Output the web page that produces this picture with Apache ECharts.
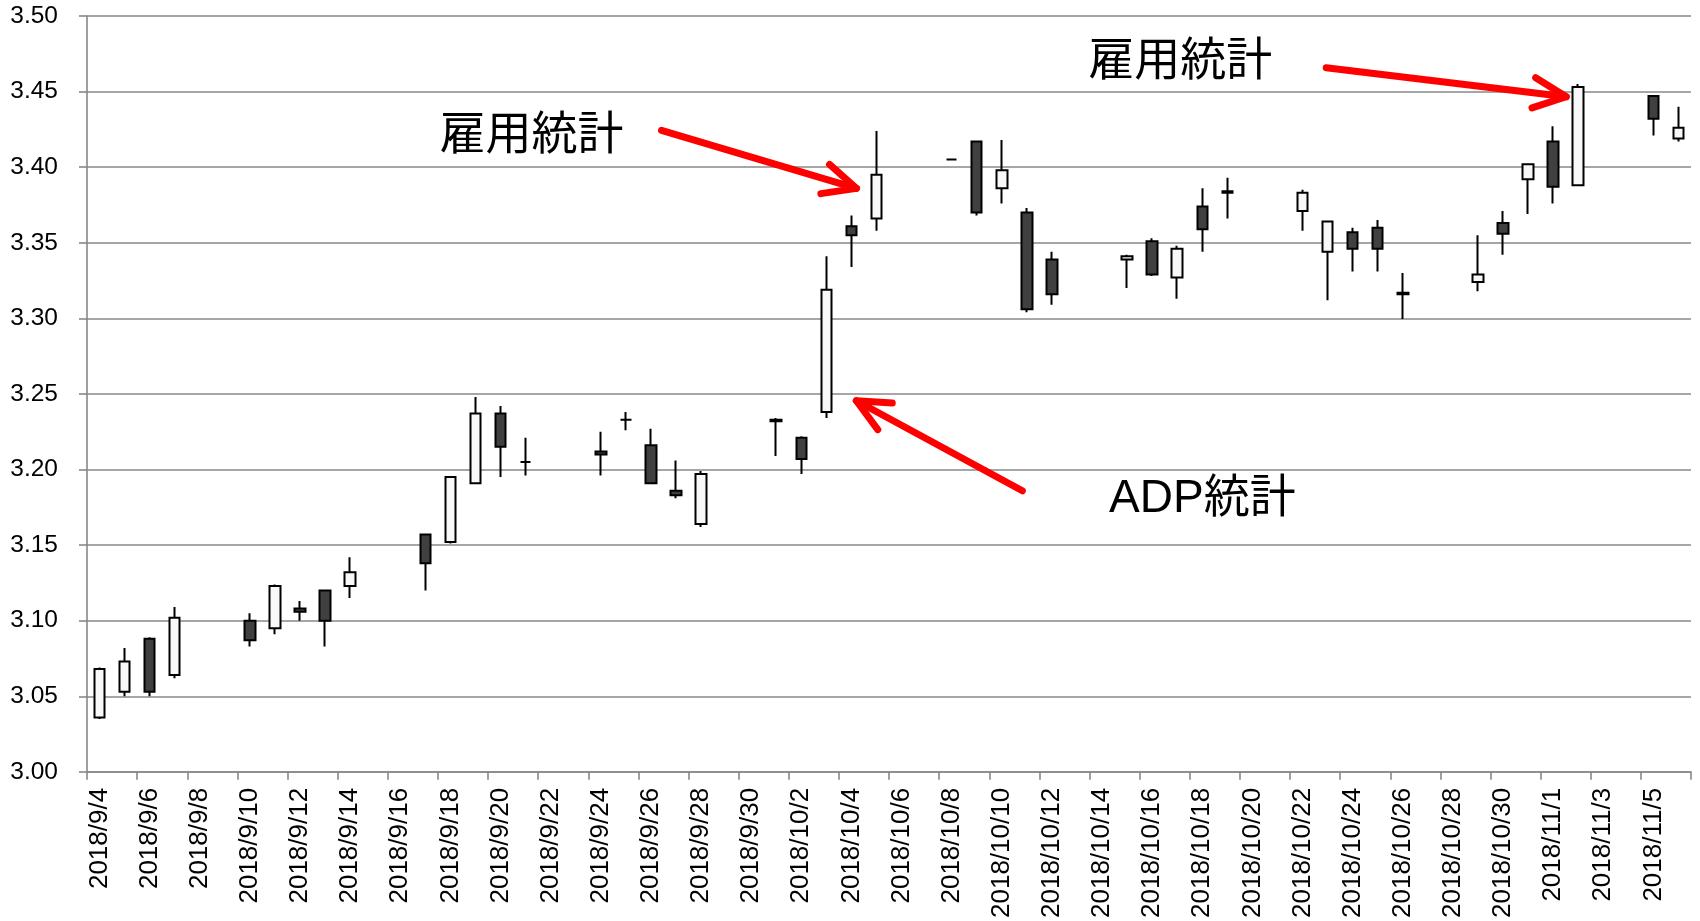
<!DOCTYPE html>
<html>
<head>
<meta charset="utf-8">
<script src="https://cdn.jsdelivr.net/npm/echarts@6/dist/echarts.min.js"></script>
<style>
html,body{margin:0;padding:0;background:#fff;}
#chart{width:1700px;height:921px;}
</style>
</head>
<body>
<div id="chart"></div>
<script>
// ---- data ----
var categories = [
 '2018/9/4','2018/9/5','2018/9/6','2018/9/7','2018/9/8','2018/9/9','2018/9/10','2018/9/11','2018/9/12','2018/9/13',
 '2018/9/14','2018/9/15','2018/9/16','2018/9/17','2018/9/18','2018/9/19','2018/9/20','2018/9/21','2018/9/22','2018/9/23',
 '2018/9/24','2018/9/25','2018/9/26','2018/9/27','2018/9/28','2018/9/29','2018/9/30','2018/10/1','2018/10/2','2018/10/3',
 '2018/10/4','2018/10/5','2018/10/6','2018/10/7','2018/10/8','2018/10/9','2018/10/10','2018/10/11','2018/10/12','2018/10/13',
 '2018/10/14','2018/10/15','2018/10/16','2018/10/17','2018/10/18','2018/10/19','2018/10/20','2018/10/21','2018/10/22','2018/10/23',
 '2018/10/24','2018/10/25','2018/10/26','2018/10/27','2018/10/28','2018/10/29','2018/10/30','2018/10/31','2018/11/1','2018/11/2',
 '2018/11/3','2018/11/4','2018/11/5','2018/11/6'
];
// null = no trading (weekend)
var openValues = [
 3.036,3.053,3.088,3.064,null,null,3.100,3.095,3.108,3.120,
 3.123,null,null,3.157,3.152,3.191,3.237,3.205,null,null,
 3.212,3.233,3.216,3.186,3.164,null,null,3.233,3.221,3.238,
 3.361,3.366,null,null,3.405,3.417,3.386,3.370,3.339,null,
 null,3.339,3.351,3.327,3.374,3.384,null,null,3.371,3.344,
 3.357,3.360,3.317,null,null,3.324,3.363,3.392,3.417,3.388,
 null,null,3.447,3.419
];
var closeValues = [
 3.068,3.073,3.053,3.102,null,null,3.087,3.123,3.106,3.100,
 3.132,null,null,3.138,3.195,3.237,3.215,3.205,null,null,
 3.210,3.233,3.191,3.183,3.197,null,null,3.232,3.207,3.319,
 3.355,3.395,null,null,3.405,3.370,3.398,3.306,3.316,null,
 null,3.341,3.329,3.346,3.359,3.383,null,null,3.383,3.364,
 3.346,3.346,3.316,null,null,3.329,3.356,3.402,3.387,3.453,
 null,null,3.432,3.426
];
var lowValues = [
 3.035,3.050,3.050,3.062,null,null,3.083,3.091,3.100,3.083,
 3.115,null,null,3.120,3.151,3.191,3.195,3.196,null,null,
 3.196,3.226,3.191,3.181,3.162,null,null,3.209,3.197,3.234,
 3.334,3.358,null,null,3.405,3.368,3.376,3.304,3.309,null,
 null,3.320,3.328,3.313,3.344,3.366,null,null,3.358,3.312,
 3.331,3.331,3.2995,null,null,3.318,3.342,3.369,3.376,3.388,
 null,null,3.421,3.417
];
var highValues = [
 3.069,3.082,3.089,3.109,null,null,3.105,3.124,3.113,3.120,
 3.142,null,null,3.157,3.195,3.248,3.242,3.221,null,null,
 3.225,3.238,3.227,3.206,3.199,null,null,3.234,3.222,3.341,
 3.368,3.424,null,null,3.405,3.417,3.418,3.373,3.344,null,
 null,3.342,3.353,3.348,3.386,3.393,null,null,3.385,3.364,
 3.360,3.365,3.330,null,null,3.355,3.371,3.402,3.427,3.455,
 null,null,3.447,3.440
];
var yTicks = {min: 3.00, max: 3.50, interval: 0.05};

// annotations: tip anchored on a candle (date, value) with pixel offsets for tail and text
var annotations = [
 {text:'雇用統計', date:'2018/10/5', value:3.386, dx:-20, tail:[-195,-58], label:[-325,-52]},
 {text:'雇用統計', date:'2018/11/2', value:3.4466, dx:-12, tail:[-240,-29], label:[-386,-34]},
 {text:'ADP統計', date:'2018/10/3', value:3.2455, dx:30, tail:[166,90], label:[346,99]}
];

// ---- build ----
var candleData = categories.map(function(c, i){
  if (openValues[i] == null) return ['-','-','-','-'];
  return [openValues[i], closeValues[i], lowValues[i], highValues[i]];
});

var chart = echarts.init(document.getElementById('chart'), null, {renderer:'canvas'});
var gridColor = '#888888';
var option = {
  animation: false,
  backgroundColor: '#ffffff',
  grid: {left: 87, right: 9, top: 16, bottom: 147, containLabel: false},
  xAxis: {
    type: 'category',
    data: categories,
    boundaryGap: true,
    axisLine: {show: true, lineStyle: {color: gridColor, width: 1.6}},
    axisTick: {show: true, interval: 1, length: 8, lineStyle: {color: gridColor, width: 1.6}},
    axisLabel: {interval: 1, rotate: 90, margin: 16, fontSize: 26, color: '#000',
                fontFamily: '"Liberation Sans", Arial, sans-serif'},
    splitLine: {show: false}
  },
  yAxis: {
    type: 'value',
    min: yTicks.min, max: yTicks.max, interval: yTicks.interval,
    axisLine: {show: true, lineStyle: {color: gridColor, width: 1.6}},
    axisTick: {show: true, length: 8, lineStyle: {color: gridColor, width: 1.6}},
    axisLabel: {margin: 29, fontSize: 24.5, color: '#000',
                fontFamily: '"Liberation Sans", Arial, sans-serif',
                formatter: function(v){ return v.toFixed(2); }},
    splitLine: {show: true, lineStyle: {color: gridColor, width: 1.6}}
  },
  series: [{
    type: 'candlestick',
    data: candleData,
    barWidth: 11,
    itemStyle: {
      color: '#f8f8f8', color0: '#404040',
      borderColor: '#000', borderColor0: '#000', borderColorDoji: '#000',
      borderWidth: 2
    }
  }]
};
chart.setOption(option);

function buildGraphics(){
  var els = [];
  annotations.forEach(function(a){
    var idx = categories.indexOf(a.date);
    var p = chart.convertToPixel({gridIndex:0}, [idx, a.value]);
    var tip = [p[0] + a.dx, p[1]];
    var tail = [tip[0] + a.tail[0], tip[1] + a.tail[1]];
    var ang = Math.atan2(tail[1] - tip[1], tail[0] - tip[0]);
    var wl = 36, wa = 25 * Math.PI / 180;
    var w1 = [tip[0] + wl * Math.cos(ang + wa), tip[1] + wl * Math.sin(ang + wa)];
    var w2 = [tip[0] + wl * Math.cos(ang - wa), tip[1] + wl * Math.sin(ang - wa)];
    var st = {stroke: '#ff0000', lineWidth: 7, lineCap: 'round', lineJoin: 'round', fill: null};
    els.push({type:'line', shape:{x1:tail[0], y1:tail[1], x2:tip[0], y2:tip[1]}, style: st, z: 100});
    els.push({type:'polyline', shape:{points:[w1, tip, w2]}, style: st, z: 100});
    els.push({type:'text', x: tip[0] + a.label[0], y: tip[1] + a.label[1], z: 100,
      style:{text: a.text, fill:'#000', fontSize: 46,
             fontFamily:'"Liberation Sans", "Noto Sans CJK JP", sans-serif',
             align:'center', verticalAlign:'middle'}});
  });
  chart.setOption({graphic: els});
}
buildGraphics();
</script>
</body>
</html>
